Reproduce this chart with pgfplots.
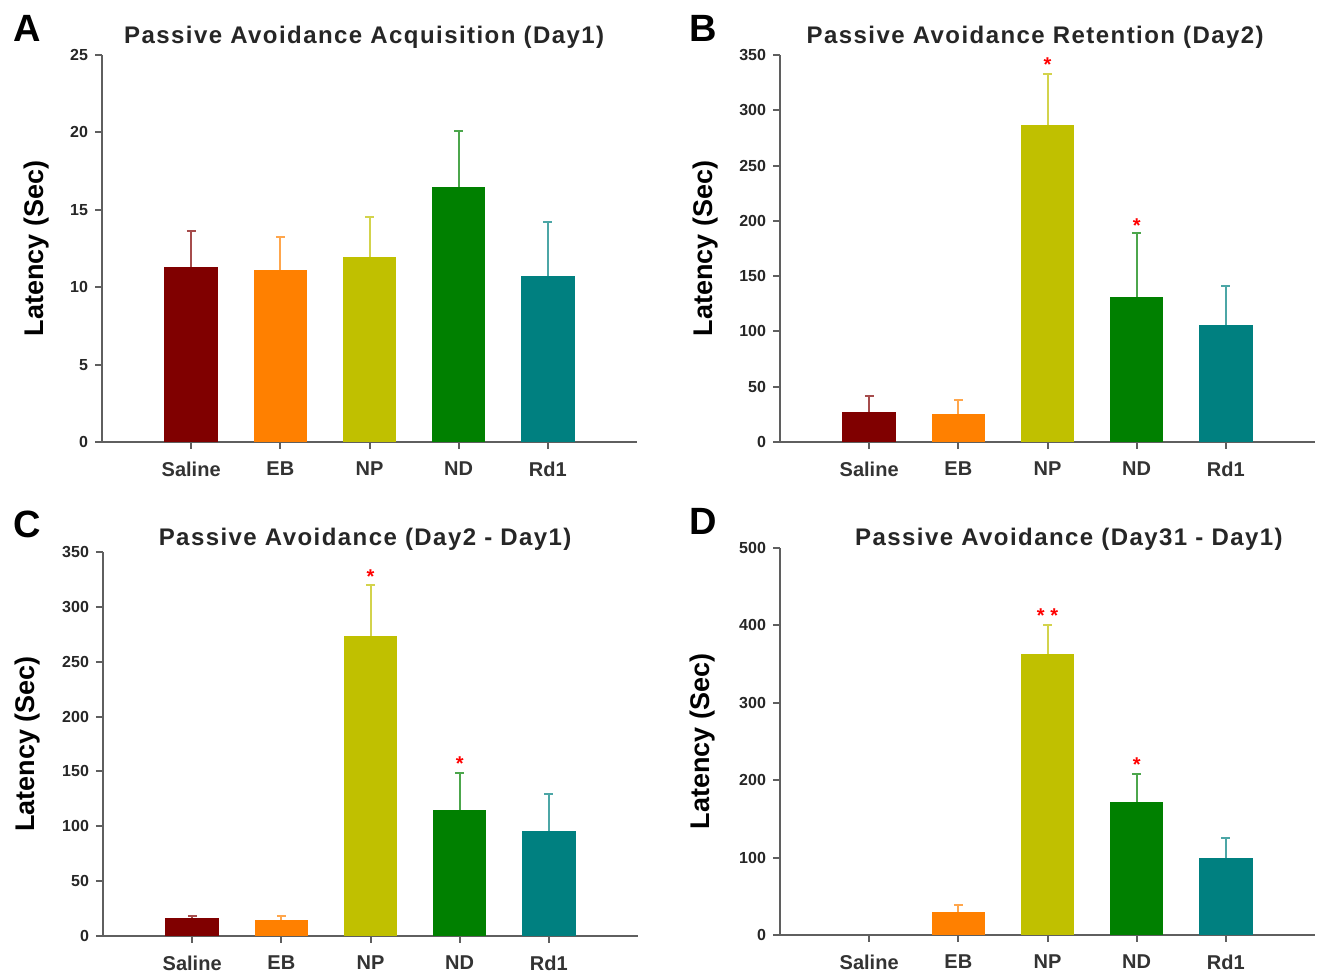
\documentclass[border=0pt]{standalone}
\usepackage{fontspec}
\setmainfont{Liberation Sans}
\newfontfamily\titlefont[LetterSpace=6]{Liberation Sans}
\usepackage{pgfplots}
\pgfplotsset{compat=1.18}
\definecolor{cSal}{RGB}{128,0,0}
\definecolor{cEB}{RGB}{255,128,0}
\definecolor{cNP}{RGB}{192,192,0}
\definecolor{cND}{RGB}{0,128,0}
\definecolor{cRd}{RGB}{0,128,128}
\definecolor{axgray}{RGB}{95,95,95}
\pgfplotsset{
 panel/.style={
  scale only axis, width=267.5pt, anchor=south west,
  xmin=0, xmax=6, ymin=0,
  axis x line*=bottom, axis y line*=left,
  axis line style={draw=axgray, line width=1pt},
  tick style={draw=axgray, line width=1pt},
  major tick length=3.5pt, tick align=outside,
  xtick={1,2,3,4,5}, xticklabels={Saline,EB,NP,ND,Rd1},
  xticklabel style={font=\bfseries\fontsize{10}{12}\selectfont, text=black!80, yshift=-3pt},
  yticklabel style={font=\bfseries\fontsize{8}{9}\selectfont, text=black!85},
  /pgf/number format/assume math mode=true,
  ylabel style={font=\bfseries\fontsize{13.5}{15}\selectfont, anchor=center},
  title style={font=\titlefont\bfseries\fontsize{12}{14}\selectfont, text=black!85, anchor=center},
  clip=false,
 },
 bar/.style={ybar, bar width=0.6, bar shift=0pt, draw=none, fill=#1,
  error bars/y dir=plus, error bars/y explicit,
  error bars/error bar style={line width=1pt, draw=#1!70},
  error bars/error mark options={rotate=90, mark size=2.2pt, line width=1pt, draw=#1!70}},
 star/.style={only marks, mark=text, mark options={red},
  text mark={\bfseries\fontsize{10}{10}\selectfont\color{red}#1}},
}
\begin{document}
\begin{tikzpicture}
\useasboundingbox (0,0) rectangle (663pt,488.5pt);
% Panel A
\begin{axis}[panel, at={(51pt,267.5pt)}, height=193.5pt, ymax=25, ytick={0,5,...,25},
  ylabel={Latency (Sec)}, ylabel style={at={(axis description cs:-0.1215,0.5)}},
  title={Passive Avoidance Acquisition (Day1)}, title style={at={(axis description cs:0.49,1)}, yshift=3pt}]
\addplot[bar=cSal] coordinates {(1,11.31) +- (0,2.33)};
\addplot[bar=cEB] coordinates {(2,11.14) +- (0,2.07)};
\addplot[bar=cNP] coordinates {(3,11.96) +- (0,2.59)};
\addplot[bar=cND] coordinates {(4,16.49) +- (0,3.61)};
\addplot[bar=cRd] coordinates {(5,10.75) +- (0,3.47)};
\end{axis}
% Panel B
\begin{axis}[panel, at={(390pt,267.5pt)}, height=193.5pt, ymax=350, ytick={0,50,...,350},
  ylabel={Latency (Sec)}, ylabel style={at={(axis description cs:-0.14,0.5)}},
  title={Passive Avoidance Retention (Day2)}, title style={at={(axis description cs:0.477,1)}, yshift=3pt}]
\addplot[bar=cSal] coordinates {(1,27.2) +- (0,14.1)};
\addplot[bar=cEB] coordinates {(2,25.6) +- (0,12.7)};
\addplot[bar=cNP] coordinates {(3,286.6) +- (0,46.2)};
\addplot[bar=cND] coordinates {(4,131.3) +- (0,57.3)};
\addplot[bar=cRd] coordinates {(5,105.6) +- (0,35.9)};
\addplot[star={*}] coordinates {(3,341) (4,196)};
\end{axis}
% Panel C
\begin{axis}[panel, at={(51.5pt,20.5pt)}, height=192pt, ymax=350, ytick={0,50,...,350},
  ylabel={Latency (Sec)}, ylabel style={at={(axis description cs:-0.142,0.5)}},
  title={Passive Avoidance (Day2 - Day1)}, title style={at={(axis description cs:0.49,1)}, yshift=0.5pt}]
\addplot[bar=cSal] coordinates {(1,16.1) +- (0,2.1)};
\addplot[bar=cEB] coordinates {(2,14.6) +- (0,3.6)};
\addplot[bar=cNP] coordinates {(3,273.5) +- (0,46.2)};
\addplot[bar=cND] coordinates {(4,114.8) +- (0,34.0)};
\addplot[bar=cRd] coordinates {(5,95.9) +- (0,33.4)};
\addplot[star={*}] coordinates {(3,327.5) (4,157.5)};
\end{axis}
% Panel D
\begin{axis}[panel, at={(390pt,21pt)}, height=193.5pt, ymax=500, ytick={0,100,...,500},
  ylabel={Latency (Sec)}, ylabel style={at={(axis description cs:-0.144,0.5)}},
  title={Passive Avoidance (Day31 - Day1)}, title style={at={(axis description cs:0.54,1)}, yshift=-1.5pt}]
\addplot[bar=cEB] coordinates {(2,30.2) +- (0,8.6)};
\addplot[bar=cNP] coordinates {(3,363.4) +- (0,37.5)};
\addplot[bar=cND] coordinates {(4,172.4) +- (0,35.8)};
\addplot[bar=cRd] coordinates {(5,99.1) +- (0,26.8)};
\addplot[star={* *}] coordinates {(3,413)};
\addplot[star={*}] coordinates {(4,220)};
\end{axis}
\node[font=\bfseries\fontsize{19}{20}\selectfont] at (13.5pt,474.5pt) {A};
\node[font=\bfseries\fontsize{19}{20}\selectfont] at (351.5pt,474.5pt) {B};
\node[font=\bfseries\fontsize{19}{20}\selectfont] at (13.5pt,226.5pt) {C};
\node[font=\bfseries\fontsize{19}{20}\selectfont] at (351.5pt,228pt) {D};
\end{tikzpicture}
\end{document}
